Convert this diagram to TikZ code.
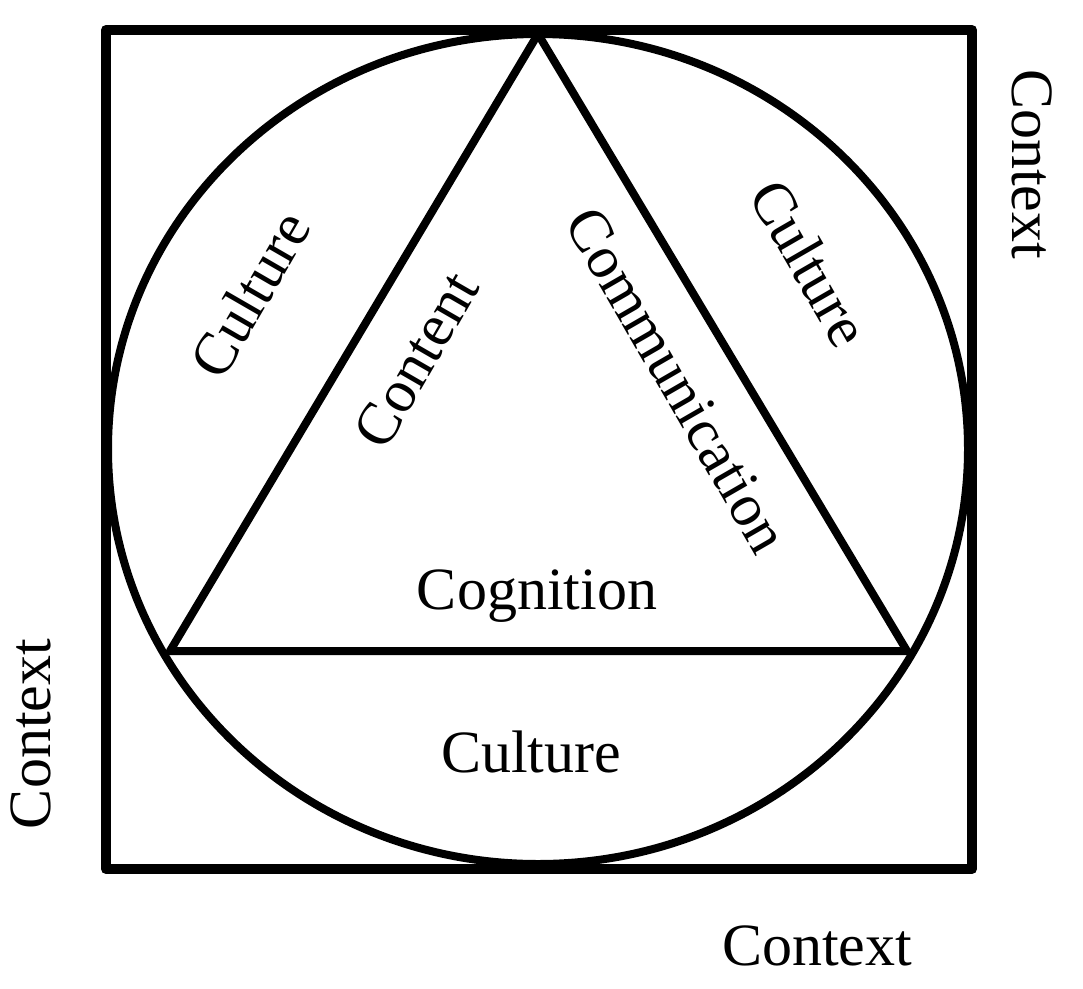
\documentclass[tikz,border=0pt]{standalone}
\usepackage{fontspec}
\setmainfont{Liberation Serif}
\begin{document}
\begin{tikzpicture}[x=1pt,y=-1pt,
  frame/.style={line width=10pt,line join=round},
  shape line/.style={line width=8pt,line join=round},
  lbl/.style={inner sep=0pt,font=\fontsize{60}{72}\selectfont}]
\useasboundingbox (0,0) rectangle (1083,988);
% square
\coordinate (sqA) at (106,30);
\coordinate (sqB) at (972,869);
\draw[frame] (sqA) rectangle (sqB);
% circle (slightly elliptical)
\coordinate (ctr) at (538,449);
\draw[shape line] (ctr) ellipse [x radius=430pt, y radius=415pt];
% triangle
\coordinate (top) at (538,34);
\coordinate (bl) at (170,651);
\coordinate (br) at (907,651);
\draw[shape line] (top) -- (bl) -- (br) -- cycle;
% labels
\node[lbl,anchor=base] (ctxB) at (817,965) {Context};
\node[lbl,anchor=base,rotate=-90] (ctxR) at (1012,164) {Context};
\node[lbl,anchor=base,rotate=90] (ctxL) at (50,734) {Context};
\node[lbl,anchor=base] (cog) at (537,609) {Cognition};
\node[lbl,anchor=base] (culB) at (531,772) {Culture};
\node[lbl,rotate=60] (culL) at (250,294) {Culture};
\node[lbl,rotate=60] (cont) at (416,360) {Content};
\node[lbl,rotate=-60] (comm) at (677,380) {Communication};
\node[lbl,rotate=-60] (culR) at (810,263) {Culture};
\end{tikzpicture}
\end{document}
